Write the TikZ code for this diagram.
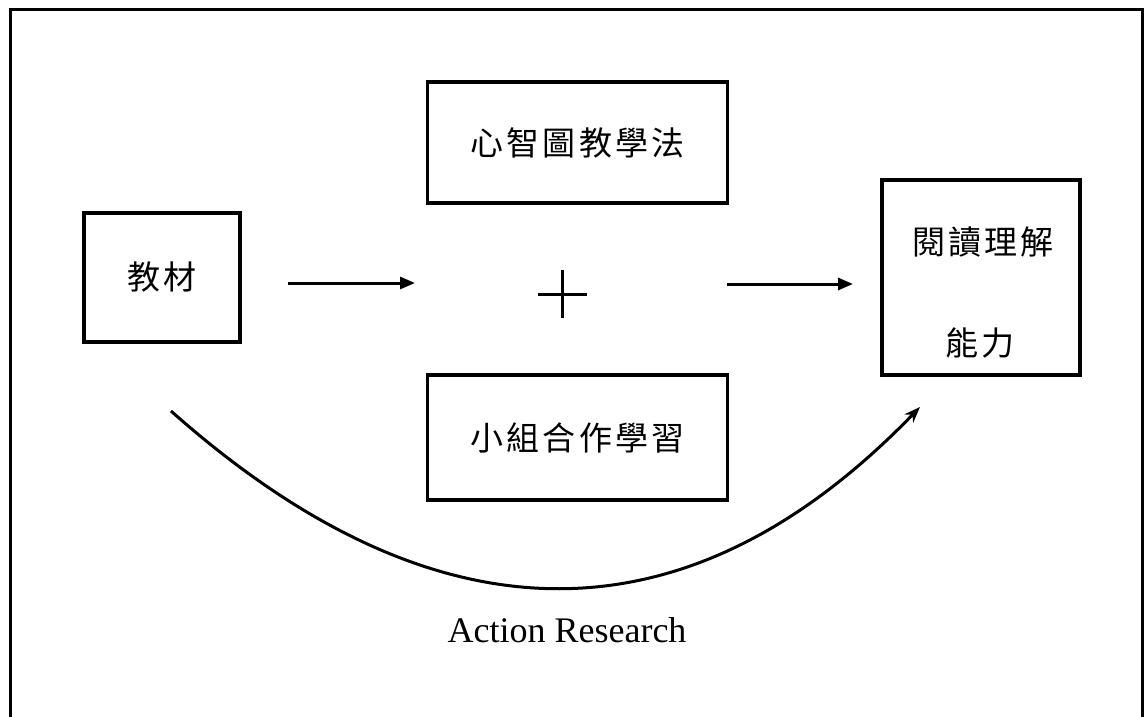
\documentclass[tikz,border=0pt]{standalone}
\usepackage{fontspec}
\setmainfont{Liberation Serif}
\newfontfamily\cjk[LetterSpace=10]{Noto Sans CJK TC}
\usetikzlibrary{arrows.meta, positioning}
\tikzset{
  box/.style={draw, line width=3.3pt, inner sep=0pt, font=\cjk\fontsize{33}{40}\selectfont},
  cjktext/.style={inner sep=0pt, font=\cjk\fontsize{33}{40}\selectfont},
  flow/.style={line width=3pt, -{Triangle[length=15pt, width=12pt]}},
}

\begin{document}
\begin{tikzpicture}[x=1pt, y=-1pt]
  \useasboundingbox (0,0) rectangle (1146,717);

  % outer frame, open at the bottom
  \draw[line width=3pt] (10,717) -- (10,10) -- (1142,10) -- (1142,717);

  % boxes
  \node[box, minimum width=156pt, minimum height=129pt] (mat) at (162,277.5) {教材};
  \node[box, minimum width=300pt, minimum height=121pt] (mind) at (577.5,142.5) {心智圖教學法};
  \node[box, minimum width=300pt, minimum height=125pt] (group) at (577.5,437.5) {小組合作學習};
  \node[box, minimum width=198pt, minimum height=195pt] (read) at (981,277.5) {};
  \node[cjktext] (read1) at (983,242) {閱讀理解};
  \node[cjktext] (read2) at (980,343) {能力};

  % plus sign
  \draw[line width=3pt] (538,294) -- (587,294);
  \draw[line width=3pt] (562,270) -- (562,318);

  % flow arrows
  \coordinate (a1s) at (288,283);
  \coordinate (a1e) at (415,283);
  \coordinate (a2s) at (727,284);
  \coordinate (a2e) at (853,284);
  \draw[flow] (a1s) -- (a1e);
  \draw[flow] (a2s) -- (a2e);

  % action research curve
  \coordinate (cs) at (171,411);
  \coordinate (ce) at (920,407);
  \draw[line width=3pt, -{Stealth[length=16pt, width=12pt]}]
    (cs) .. controls (440,650) and (690,645) .. (ce);
  \node[anchor=base, font=\fontsize{36}{40}\selectfont] (ar) at (567,642) {Action Research};
\end{tikzpicture}
\end{document}
